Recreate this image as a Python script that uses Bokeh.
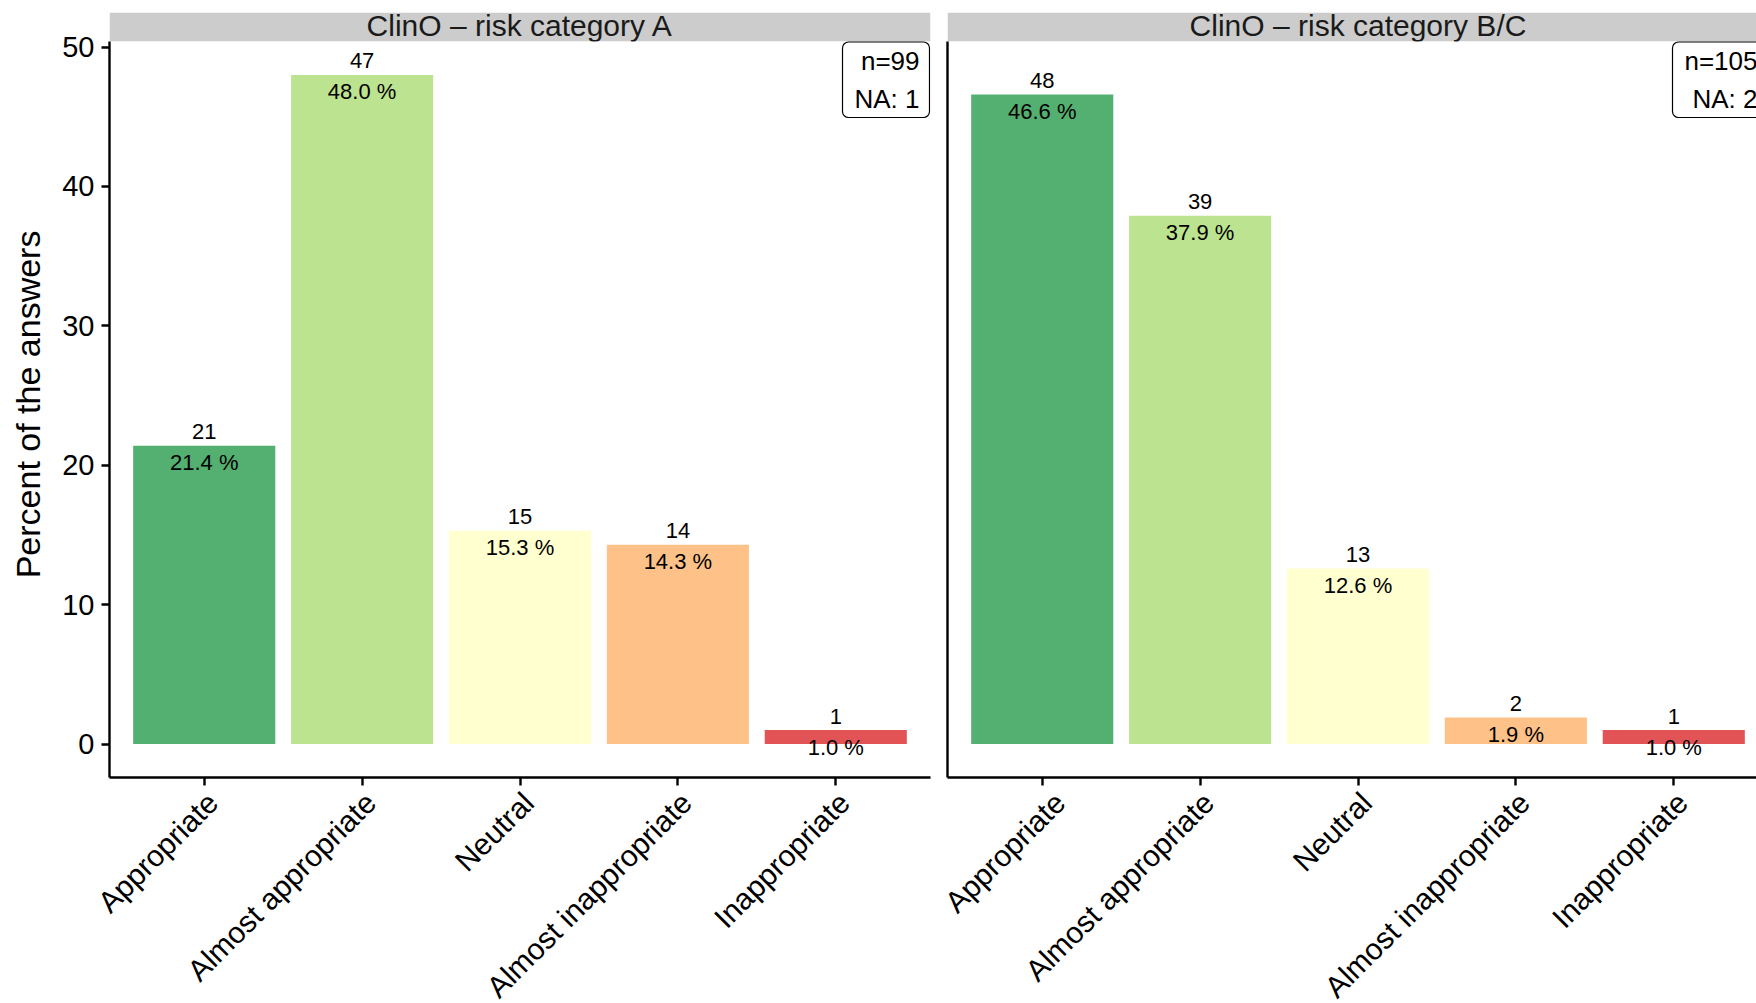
import math
from bokeh.plotting import figure
from bokeh.layouts import row
from bokeh.models import (Range1d, FixedTicker, ColumnDataSource, LinearAxis,
                          CustomLabelingPolicy)
from bokeh.core.properties import value
from bokeh.embed import file_html
from bokeh.resources import INLINE

# ---------------- data ----------------
categories = ["Appropriate", "Almost appropriate", "Neutral",
              "Almost inappropriate", "Inappropriate"]
panel_titles = ["ClinO \u2013 risk category A", "ClinO \u2013 risk category B/C"]
y_title = "Percent of the answers"
percent_A = [21.4, 48.0, 15.3, 14.3, 1.0]
count_A = [21, 47, 15, 14, 1]
percent_B = [46.6, 37.9, 12.6, 1.9, 1.0]
count_B = [48, 39, 13, 2, 1]
n_total = [99, 105]
n_missing = [1, 2]
y_ticks = [0, 10, 20, 30, 40, 50]
bar_colors = ["#1a9641", "#a6d96a", "#ffffbf", "#fdae61", "#d7191c"]

# ---------------- style ----------------
FONT = "Liberation Sans"
FRAME_W = 821          # full panel width in px
FRAME_H = 736          # data area height in px
STRIP_H = 29           # facet strip height in px
X0, X1 = 0.4, 5.6
Y0, Y1 = -2.4, 50.4
AX_W = 2.4
LABEL_SHIFT = 8.5      # px shift of rotated tick labels (hjust/vjust = 1)


def make_panel(title, percents, counts, n, na, first, visible_w, box_w):
    ppx = FRAME_W / (X1 - X0)
    ppy = FRAME_H / (Y1 - Y0)
    x_end = X0 + visible_w / ppx
    y_top = Y1 + STRIP_H / ppy
    lb = 109 if first else 9
    rb = 8 if first else 0

    p = figure(frame_width=visible_w, frame_height=FRAME_H + STRIP_H,
               min_border_left=lb, min_border_right=rb,
               min_border_top=12, min_border_bottom=225,
               x_range=Range1d(X0, x_end), y_range=Range1d(Y0, y_top),
               toolbar_location=None, output_backend="svg",
               outline_line_color=None, background_fill_color="white",
               border_fill_color="white")
    p.grid.visible = False

    # facet strip (text clipped at the strip's lower edge)
    p.quad(left=[X0], right=[x_end], bottom=[Y1], top=[y_top],
           fill_color="#CCCCCC", line_color=None)
    p.text(x=[(X0 + X1) / 2], y=[Y1], text=[title],
           text_font=value(FONT), text_font_size="30px",
           text_align="center", text_baseline="alphabetic",
           y_offset=-16, text_color="#1a1a1a")
    p.quad(left=[X0], right=[x_end], bottom=[Y0], top=[Y1],
           fill_color="white", line_color=None)

    xs = list(range(1, len(categories) + 1))
    src = ColumnDataSource(dict(
        x=xs, top=percents, color=bar_colors,
        cnt=[str(c) for c in counts],
        pct=[f"{v:.1f} %" for v in percents]))
    p.vbar(x="x", top="top", bottom=0, width=0.9, fill_color="color",
           fill_alpha=0.75, line_color=None, source=src)
    p.text(x="x", y="top", text="cnt", source=src, text_align="center",
           text_baseline="alphabetic", y_offset=-14,
           text_font=value(FONT), text_font_size="22px", text_color="black")
    p.text(x="x", y="top", text="pct", source=src, text_align="center",
           text_baseline="alphabetic", y_offset=17,
           text_font=value(FONT), text_font_size="22px", text_color="black")

    # n / NA box
    right = X1 - 1.0 / ppx
    left = right - box_w / ppx
    top = Y1 - 0.5 / ppy
    bottom = Y1 - 76.0 / ppy
    p.quad(left=[left], right=[right], top=[top], bottom=[bottom],
           fill_color="white", line_color="black", line_width=1.2,
           border_radius=6)
    p.text(x=[X1], y=[Y1], text=[f"n={n}"], x_offset=-11, y_offset=19,
           text_align="right", text_baseline="alphabetic",
           text_font=value(FONT), text_font_size="26px", text_color="black")
    p.text(x=[X1], y=[Y1], text=[f"NA: {na}"], x_offset=-11, y_offset=57,
           text_align="right", text_baseline="alphabetic",
           text_font=value(FONT), text_font_size="26px", text_color="black")

    # x axis: line + ticks (its own labels suppressed)
    xa = p.xaxis[0]
    xa.ticker = FixedTicker(ticks=xs)
    xa.major_label_policy = CustomLabelingPolicy(
        code="for (const i of indices) indices.unset(i)")
    xa.major_label_text_font_size = "1px"
    xa.major_label_standoff = 0
    xa.axis_line_width = AX_W
    xa.axis_line_color = "black"
    xa.major_tick_line_width = AX_W
    xa.major_tick_line_color = "black"
    xa.major_tick_out = 8
    xa.major_tick_in = 0
    xa.minor_tick_line_color = None

    # x axis: rotated category labels (anchored at their top-right corner)
    d = LABEL_SHIFT / ppx
    p.extra_x_ranges = {"lab": Range1d(X0 - d, x_end - d)}
    lab = LinearAxis(x_range_name="lab", ticker=FixedTicker(ticks=xs),
                     major_label_overrides={x: c for x, c in zip(xs, categories)})
    lab.major_label_orientation = math.pi / 4
    lab.major_label_text_font = FONT
    lab.major_label_text_font_size = "30px"
    lab.major_label_text_color = "black"
    lab.major_label_standoff = 8
    lab.axis_line_color = None
    lab.major_tick_line_color = None
    lab.minor_tick_line_color = None
    lab.major_tick_out = 0
    lab.major_tick_in = 0
    p.add_layout(lab, "below")

    ya = p.yaxis[0]
    ya.bounds = (Y0, Y1)
    ya.axis_line_width = AX_W
    ya.axis_line_color = "black"
    ya.minor_tick_line_color = None
    if first:
        ya.ticker = FixedTicker(ticks=y_ticks)
        # two no-break spaces centre the title on the data area, not the strip
        ya.axis_label = y_title + "\u00a0\u00a0"
        ya.axis_label_text_font = FONT
        ya.axis_label_text_font_size = "34px"
        ya.axis_label_text_font_style = "normal"
        ya.axis_label_text_color = "black"
        ya.axis_label_standoff = 12
        ya.major_label_text_font = FONT
        ya.major_label_text_font_size = "29px"
        ya.major_label_text_color = "black"
        ya.major_label_standoff = 7
        ya.major_tick_line_width = AX_W
        ya.major_tick_line_color = "black"
        ya.major_tick_out = 8
        ya.major_tick_in = 0
    else:
        ya.ticker = FixedTicker(ticks=[])
        ya.major_tick_out = 0
        ya.major_tick_in = 0
        ya.major_label_standoff = 0

    return p


panel_a = make_panel(panel_titles[0], percent_A, count_A, n_total[0], n_missing[0],
                     True, FRAME_W, 87)
panel_b = make_panel(panel_titles[1], percent_B, count_B, n_total[1], n_missing[1],
                     False, 809, 95)

layout = row(panel_a, panel_b, spacing=0)

open("out.html", "w").write(file_html(layout, INLINE, "ClinO"))
